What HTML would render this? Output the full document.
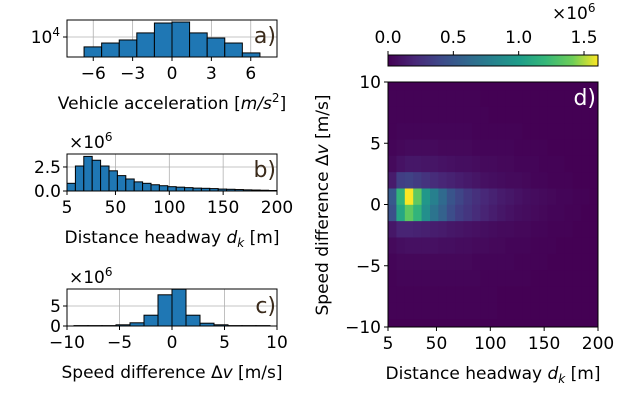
<!DOCTYPE html>
<html><head><meta charset="utf-8"><style>
body{margin:0;background:#fff;}
svg{display:block;font-family:"DejaVu Sans","Liberation Sans",sans-serif;}
</style></head><body>
<svg id="fig" width="640" height="415" viewBox="0 0 640 415">
<defs><linearGradient id="vir" x1="0" x2="1" y1="0" y2="0">
<stop offset="0" stop-color="#440154"/><stop offset="0.13" stop-color="#482878"/><stop offset="0.25" stop-color="#3e4989"/><stop offset="0.38" stop-color="#31688e"/><stop offset="0.5" stop-color="#26828e"/><stop offset="0.63" stop-color="#1f9e89"/><stop offset="0.75" stop-color="#35b779"/><stop offset="0.88" stop-color="#6ece58"/><stop offset="1" stop-color="#fde725"/></linearGradient></defs>
<g id="root"></g>
</svg>
<script>
// Panel a: acceleration histogram (log scale)
const accEdges=[-6.7,-5.36,-4.02,-2.68,-1.34,0,1.34,2.68,4.02,5.36,6.7];
const accCounts=[3200,5000,7100,16000,50000,56000,16000,8900,5000,1600];
const accTicks=[-6,-3,0,3,6];
// Panel b: distance headway histogram (x1e6)
const dkCounts=[0.8,2.6,3.6,3.2,2.6,2.1,1.6,1.25,0.95,0.8,0.65,0.55,0.45,0.4,0.35,0.3,0.28,0.25,0.2,0.18,0.15,0.12,0.1,0.08,0.05];
const dkTicks=[5,50,100,150,200];
const dkYTicks=[0,2.5];
// Panel c: speed difference histogram (x1e6)
const dvEdgeStart=-9.333, dvBinW=1.3333;
const dvCounts=[0.1,0.1,0.1,0.3,0.8,2.7,7.8,9.2,2.7,0.7,0.3,0.1,0.1,0.1];
const dvTicks=[-10,-5,0,5,10];
const dvYTicks=[0,5];
// Panel d: heatmap rows (from dv=-9.33 upward, bins 1.333), columns dk bins of 7.8 m (x1e6)
const hmRows=[
[0.01,0.01,0.01,0.01,0.01,0.01,0.01,0.01,0.01,0.01,0.01,0.01,0.01,0,0,0,0,0,0,0,0,0,0,0,0],
[0.01,0.01,0.01,0.01,0.01,0.01,0.01,0.01,0.01,0.01,0.01,0.01,0.01,0,0,0,0,0,0,0,0,0,0,0,0],
[0.01,0.02,0.02,0.02,0.02,0.02,0.02,0.02,0.02,0.02,0.02,0.01,0.01,0.01,0.01,0.01,0.01,0,0,0,0,0,0,0,0],
[0.02,0.03,0.03,0.03,0.03,0.03,0.03,0.03,0.03,0.03,0.02,0.02,0.02,0.02,0.02,0.01,0.01,0.01,0.01,0,0,0,0,0,0],
[0.04,0.06,0.07,0.07,0.07,0.07,0.06,0.06,0.05,0.05,0.04,0.04,0.03,0.03,0.02,0.02,0.02,0.01,0.01,0.01,0,0,0,0,0],
[0.1,0.16,0.16,0.15,0.14,0.13,0.12,0.1,0.09,0.08,0.07,0.06,0.05,0.04,0.04,0.03,0.03,0.02,0.02,0.01,0.01,0.01,0,0,0],
[0.4,0.95,1.2,1.05,0.8,0.62,0.5,0.38,0.3,0.25,0.2,0.16,0.13,0.1,0.08,0.06,0.05,0.04,0.03,0.02,0.02,0.01,0.01,0,0],
[0.45,1.05,1.6,1.2,0.85,0.7,0.55,0.42,0.34,0.27,0.22,0.18,0.15,0.12,0.1,0.08,0.06,0.05,0.04,0.03,0.02,0.02,0.01,0.01,0],
[0.12,0.3,0.32,0.28,0.24,0.2,0.17,0.15,0.13,0.11,0.09,0.07,0.06,0.05,0.04,0.04,0.03,0.02,0.02,0.01,0.01,0.01,0,0,0],
[0.04,0.08,0.1,0.1,0.09,0.09,0.08,0.07,0.06,0.06,0.05,0.04,0.04,0.03,0.03,0.02,0.02,0.02,0.01,0.01,0.01,0,0,0,0],
[0.02,0.03,0.04,0.04,0.04,0.04,0.03,0.03,0.03,0.03,0.02,0.02,0.02,0.02,0.02,0.01,0.01,0.01,0.01,0,0,0,0,0,0],
[0.01,0.02,0.02,0.02,0.02,0.02,0.02,0.02,0.02,0.02,0.01,0.01,0.01,0.01,0.01,0.01,0,0,0,0,0,0,0,0,0],
[0.01,0.01,0.01,0.01,0.01,0.01,0.01,0.01,0.01,0.01,0.01,0.01,0,0,0,0,0,0,0,0,0,0,0,0,0],
[0.01,0.01,0.01,0.01,0.01,0.01,0.01,0.01,0.01,0.01,0.01,0,0,0,0,0,0,0,0,0,0,0,0,0,0]];
const hmXTicks=[5,50,100,150,200];
const hmYTicks=[-10,-5,0,5,10];
const cbTicks=[0.0,0.5,1.0,1.5];

const NS="http://www.w3.org/2000/svg";
const root=document.getElementById('root');
function el(tag,attrs,parent,text){const e=document.createElementNS(NS,tag);for(const k in attrs)e.setAttribute(k,attrs[k]);if(text!==undefined)e.textContent=text;(parent||root).appendChild(e);return e;}
const BLUE="#1f77b4";
function lin(d0,d1,r0,r1){return v=>r0+(v-d0)/(d1-d0)*(r1-r0);}
function fmt(v){return (v<0?"\u2212":"")+Math.abs(v);}

// ---------- Panel a ----------
{const X=lin(-8,8,67,277);const Y=v=>37-20*Math.log10(v/1e4);
const g=el('g',{});
accTicks.forEach(t=>{el('line',{x1:X(t),x2:X(t),y1:20,y2:57,stroke:"#b0b0b0","stroke-width":0.8},g);});
el('line',{x1:67,x2:277,y1:37,y2:37,stroke:"#b0b0b0","stroke-width":0.8},g);
accCounts.forEach((c,i)=>{const r=el('rect',{x:X(accEdges[i]),y:Y(c),width:X(accEdges[i+1])-X(accEdges[i]),height:57-Y(c),fill:BLUE,stroke:"#000","stroke-width":1},g);});
el('rect',{x:67,y:20,width:210,height:37,fill:"none",stroke:"#000","stroke-width":1},g);
accTicks.forEach(t=>{el('line',{x1:X(t),x2:X(t),y1:57,y2:61,stroke:"#000"},g);el('text',{x:X(t),y:79,"font-size":17,"text-anchor":"middle"},g,fmt(t));});
el('line',{x1:63,x2:67,y1:37,y2:37,stroke:"#000"},g);
const yt=el('text',{x:60,y:43,"font-size":17,"text-anchor":"end"},g);el('tspan',{},yt,"10");el('tspan',{dy:-7,"font-size":12},yt,"4");
el('text',{x:276,y:43,"font-size":22,"text-anchor":"end",fill:"#3a2a1a"},g,"a)");
const xl=el('text',{x:172,y:109,"font-size":17,"text-anchor":"middle"},g);
el('tspan',{},xl,"Vehicle acceleration [");el('tspan',{"font-style":"italic"},xl,"m/s");el('tspan',{dy:-7,"font-size":12},xl,"2");el('tspan',{dy:7},xl,"]");}

// ---------- Panel b ----------
{const X=lin(5,200,67,277);const Y=lin(0,3.85,191,154);const w=195/dkCounts.length;
const g=el('g',{});
dkTicks.forEach(t=>el('line',{x1:X(t),x2:X(t),y1:154,y2:191,stroke:"#b0b0b0","stroke-width":0.8},g));
dkYTicks.forEach(t=>el('line',{x1:67,x2:277,y1:Y(t),y2:Y(t),stroke:"#b0b0b0","stroke-width":0.8},g));
dkCounts.forEach((c,i)=>{const r=el('rect',{x:X(5+i*w),y:Y(c),width:X(5+(i+1)*w)-X(5+i*w),height:191-Y(c),fill:BLUE,stroke:"#000","stroke-width":1},g);});
el('rect',{x:67,y:154,width:210,height:37,fill:"none",stroke:"#000","stroke-width":1},g);
dkTicks.forEach(t=>{el('line',{x1:X(t),x2:X(t),y1:191,y2:195,stroke:"#000"},g);el('text',{x:X(t),y:213,"font-size":17,"text-anchor":"middle"},g,String(t));});
dkYTicks.forEach(t=>{el('line',{x1:63,x2:67,y1:Y(t),y2:Y(t),stroke:"#000"},g);el('text',{x:61,y:Y(t)+6,"font-size":17,"text-anchor":"end"},g,t.toFixed(1));});
const m=el('text',{x:69,y:148,"font-size":17},g);el('tspan',{},m,"\u00d710");el('tspan',{dy:-7,"font-size":12},m,"6");
el('text',{x:276,y:177,"font-size":22,"text-anchor":"end",fill:"#3a2a1a"},g,"b)");
const xl=el('text',{x:172,y:243,"font-size":17,"text-anchor":"middle"},g);
el('tspan',{},xl,"Distance headway ");el('tspan',{"font-style":"italic"},xl,"d");el('tspan',{dy:4,"font-size":12,"font-style":"italic"},xl,"k");el('tspan',{dy:-4},xl," [m]");}

// ---------- Panel c ----------
{const X=lin(-10,10,67,277);const Y=lin(0,9.25,326,289);
const g=el('g',{});
dvTicks.forEach(t=>el('line',{x1:X(t),x2:X(t),y1:289,y2:326,stroke:"#b0b0b0","stroke-width":0.8},g));
dvYTicks.forEach(t=>el('line',{x1:67,x2:277,y1:Y(t),y2:Y(t),stroke:"#b0b0b0","stroke-width":0.8},g));
dvCounts.forEach((c,i)=>{const a=dvEdgeStart+i*dvBinW;const r=el('rect',{x:X(a),y:Y(c),width:X(a+dvBinW)-X(a),height:326-Y(c),fill:BLUE,stroke:"#000","stroke-width":1},g);});
el('rect',{x:67,y:289,width:210,height:37,fill:"none",stroke:"#000","stroke-width":1},g);
dvTicks.forEach(t=>{el('line',{x1:X(t),x2:X(t),y1:326,y2:330,stroke:"#000"},g);el('text',{x:X(t),y:348,"font-size":17,"text-anchor":"middle"},g,fmt(t));});
dvYTicks.forEach(t=>{el('line',{x1:63,x2:67,y1:Y(t),y2:Y(t),stroke:"#000"},g);el('text',{x:61,y:Y(t)+6,"font-size":17,"text-anchor":"end"},g,String(t));});
const m=el('text',{x:69,y:283,"font-size":17},g);el('tspan',{},m,"\u00d710");el('tspan',{dy:-7,"font-size":12},m,"6");
el('text',{x:276,y:313,"font-size":22,"text-anchor":"end",fill:"#3a2a1a"},g,"c)");
const xl=el('text',{x:172,y:378,"font-size":17,"text-anchor":"middle"},g);
el('tspan',{},xl,"Speed difference \u0394");el('tspan',{"font-style":"italic"},xl,"v");el('tspan',{},xl," [m/s]");}

// ---------- Panel d heatmap ----------
const VIR=[[68,1,84],[72,40,120],[62,73,137],[49,104,142],[38,130,142],[31,158,137],[53,183,121],[110,206,88],[181,222,43],[253,231,37]];
function viridis(t){t=Math.max(0,Math.min(1,t));const p=t*(VIR.length-1);const i=Math.min(VIR.length-2,Math.floor(p));const f=p-i;const c=VIR[i].map((v,k)=>Math.round(v+(VIR[i+1][k]-v)*f));return `rgb(${c[0]},${c[1]},${c[2]})`;}
{const X=lin(5,200,388,598);const Y=lin(-10,10,327,82);const vmax=1.607;
const g=el('g',{});
el('rect',{x:388,y:82,width:210,height:245,fill:"#440154"},g);
const cw=195/hmRows[0].length;
hmRows.forEach((row,ri)=>{const y0=-9.333+ri*1.3333;row.forEach((v,ci)=>{const r=el('rect',{x:X(5+ci*cw),y:Y(y0+1.3333),width:X(5+(ci+1)*cw)-X(5+ci*cw)+0.3,height:Y(y0)-Y(y0+1.3333)+0.3,fill:viridis(v/vmax)},g);});});
el('rect',{x:388,y:82,width:210,height:245,fill:"none",stroke:"#000","stroke-width":1},g);
hmXTicks.forEach(t=>{el('line',{x1:X(t),x2:X(t),y1:327,y2:331,stroke:"#000"},g);el('text',{x:X(t),y:349,"font-size":17,"text-anchor":"middle"},g,String(t));});
hmYTicks.forEach(t=>{el('line',{x1:384,x2:388,y1:Y(t),y2:Y(t),stroke:"#000"},g);el('text',{x:381,y:Y(t)+6,"font-size":17,"text-anchor":"end"},g,fmt(t));});
el('text',{x:596,y:105,"font-size":22,"text-anchor":"end",fill:"#fff"},g,"d)");
const xl=el('text',{x:493,y:379,"font-size":17,"text-anchor":"middle"},g);
el('tspan',{},xl,"Distance headway ");el('tspan',{"font-style":"italic"},xl,"d");el('tspan',{dy:4,"font-size":12,"font-style":"italic"},xl,"k");el('tspan',{dy:-4},xl," [m]");
const yl=el('text',{transform:"translate(328,205) rotate(-90)","font-size":17,"text-anchor":"middle"},g);
el('tspan',{},yl,"Speed difference \u0394");el('tspan',{"font-style":"italic"},yl,"v");el('tspan',{},yl," [m/s]");
// colorbar
const C=lin(0,vmax,388,598);
const cb=el('rect',{x:388,y:55,width:210,height:11,fill:"url(#vir)",stroke:"#000","stroke-width":1},g);
cbTicks.forEach(t=>{el('line',{x1:C(t),x2:C(t),y1:51,y2:55,stroke:"#000"},g);el('text',{x:C(t),y:43,"font-size":17,"text-anchor":"middle"},g,t.toFixed(1));});
const m=el('text',{x:552,y:19,"font-size":17},g);el('tspan',{},m,"\u00d710");el('tspan',{dy:-7,"font-size":12},m,"6");}
</script>
</body></html>
